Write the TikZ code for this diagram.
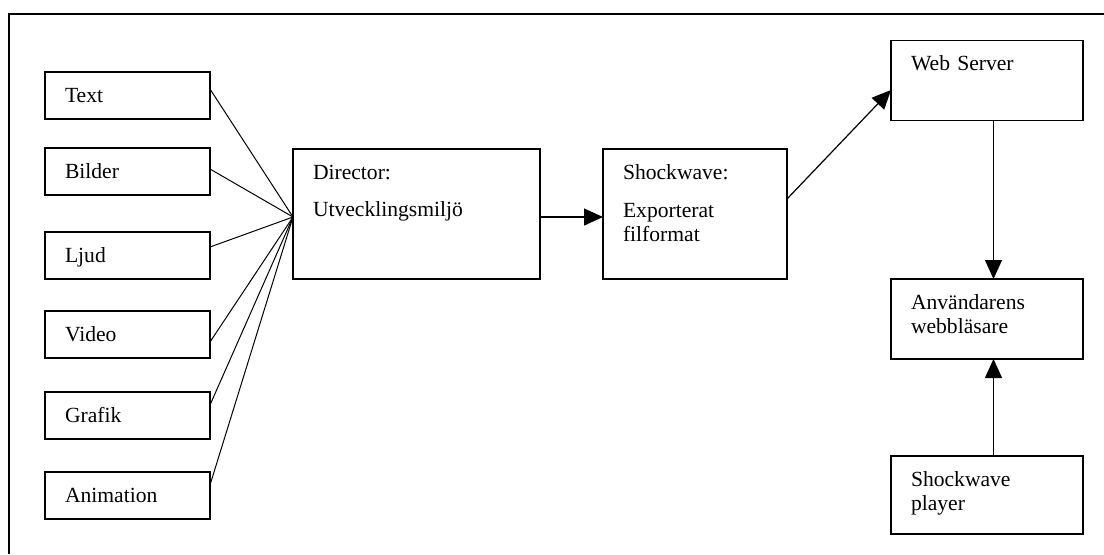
\documentclass[tikz,border=0pt]{standalone}
\usepackage{fontspec}
\setmainfont{Liberation Serif}
\usetikzlibrary{positioning,arrows.meta}

\begin{document}
\begin{tikzpicture}[x=1pt, y=1pt,
    font=\fontsize{10.8}{12}\selectfont,
    box/.style={draw, line width=0.6pt, anchor=north west, align=left, outer sep=0pt,
        inner xsep=10pt, inner ysep=8pt, text height=7pt},
    media/.style={box, text width=62.5pt, text depth=0.5pt},
    feed/.style={line width=0.5pt},
    flow/.style={line width=0.6pt, -{Triangle[length=9.5pt, width=8.5pt]}}]
    \useasboundingbox (0,0) rectangle (552,277);
    \draw[line width=1.3pt] (4.5,0) -- (4.5,270) -- (552,270);

    \node[media] (text) at (22.5,241) {Text};
    \node[media, below=14.5pt of text] (bilder) {Bilder};
    \node[media, below=18.5pt of bilder] (ljud) {Ljud};
    \node[media, below=16pt of ljud] (video) {Video};
    \node[media, below=17pt of video] (grafik) {Grafik};
    \node[media, below=16.5pt of grafik] (animation) {Animation};

    \node[box, text width=103.5pt, text depth=42pt] (director) at (146.5,202.5) {Director:\\[6.5pt]Utvecklingsmiljö};
    \node[box, text width=72pt, text depth=42pt, right=31.5pt of director] (shockwave) {Shockwave:\\[7pt]Exporterat\\filformat};

    \node[box, text width=76pt, text depth=17pt] (server) at (445.5,256.75) {Web Server};
    \node[box, text width=76pt, text depth=17pt, below=79.25pt of server] (browser) {Användarens\\webbläsare};
    \node[box, text width=76pt, text depth=16pt, below=48.5pt of browser] (player) {Shockwave\\player};

    \draw[feed] ([yshift=3.25pt]text.east) -- ([yshift=-1.5pt]director.west);
    \draw[feed] ([yshift=1.25pt]bilder.east) -- ([yshift=-1.5pt]director.west);
    \draw[feed] ([yshift=4.25pt]ljud.east) -- ([yshift=-1.5pt]director.west);
    \draw[feed] ([yshift=-3.75pt]video.east) -- ([yshift=-1.5pt]director.west);
    \draw[feed] ([yshift=5.25pt]grafik.east) -- ([yshift=-1.5pt]director.west);
    \draw[feed] ([yshift=5.25pt]animation.east) -- ([yshift=-1.5pt]director.west);

    \draw[flow] ([yshift=-1.5pt]director.east) -- ([yshift=-1.5pt]shockwave.west);
    \draw[flow] ([yshift=7.5pt]shockwave.east) -- ([yshift=-4.75pt]server.west);
    \draw[flow] ([xshift=3.25pt]server.south) -- ([xshift=3.25pt]browser.north);
    \draw[flow] ([xshift=3.25pt]player.north) -- ([xshift=3.25pt]browser.south);
\end{tikzpicture}
\end{document}
